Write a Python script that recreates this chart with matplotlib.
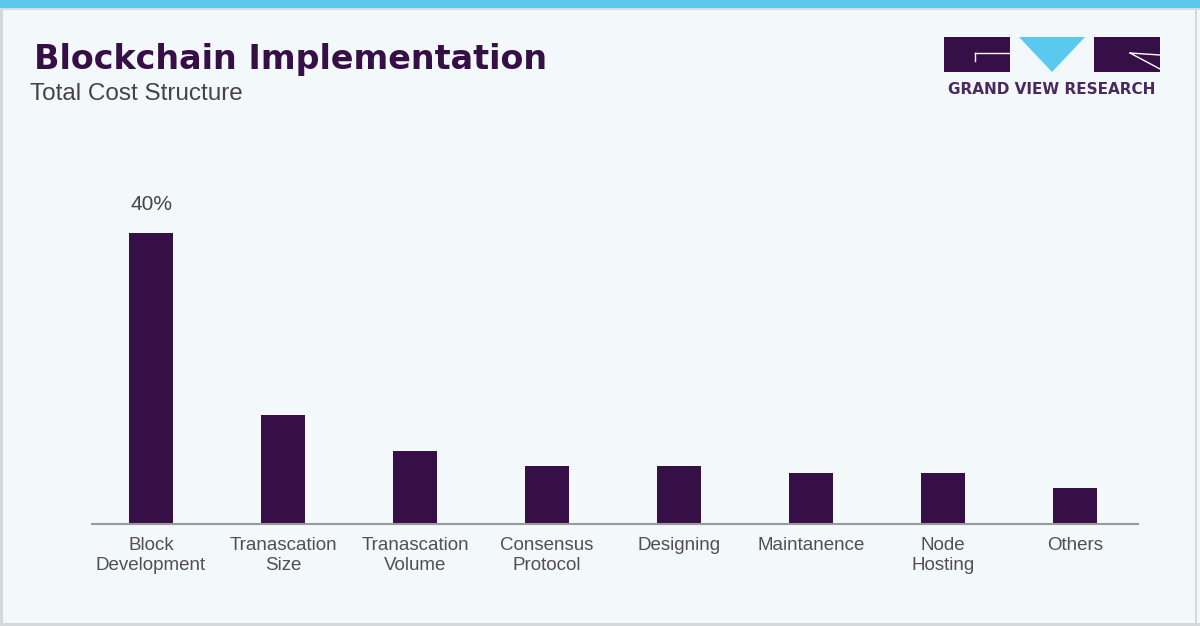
import matplotlib.pyplot as plt
from matplotlib.patches import Rectangle, Polygon

categories = ['Block\nDevelopment', 'Tranascation\nSize', 'Tranascation\nVolume',
              'Consensus\nProtocol', 'Designing', 'Maintanence', 'Node\nHosting', 'Others']
shares = [40, 15, 10, 8, 8, 7, 7, 5]
shown_label = '40%'

bg = '#f3f8fb'
purple = '#350f45'
cyan = '#5bc8f0'

plt.rcParams['font.family'] = ['Liberation Sans', 'DejaVu Sans']

fig = plt.figure(figsize=(12, 6.26), dpi=100, facecolor=bg)
W, H = 1200, 626

def box(x0, y0, x1, y1):
    # pixel box (top-left origin) -> figure fraction rect
    return [x0 / W, 1 - y1 / H, (x1 - x0) / W, (y1 - y0) / H]

# frame: top band and thin borders
fig.add_artist(Rectangle((0, 1 - 8 / H), 1, 8 / H, transform=fig.transFigure,
                         facecolor=cyan, edgecolor='none'))
fig.add_artist(Rectangle((0, 1 - 10 / H), 1, 2 / H, transform=fig.transFigure,
                         facecolor='#d5dde2', edgecolor='none'))
fig.add_artist(Rectangle((0, 0), 3 / W, 1 - 10 / H, transform=fig.transFigure,
                         facecolor='#d5d8da', edgecolor='none'))
fig.add_artist(Rectangle((1 - 5 / W, 0), 2 / W, 1 - 10 / H, transform=fig.transFigure,
                         facecolor='#d5d8da', edgecolor='none'))
fig.add_artist(Rectangle((0, 0), 1, 3 / H, transform=fig.transFigure,
                         facecolor='#d5d8da', edgecolor='none'))

ax = fig.add_axes(box(92, 160, 1138, 524))
ax.set_facecolor(bg)
x = range(len(categories))
ax.bar(x, shares, width=0.33, color=purple)
ax.set_xlim(-0.447, len(categories) - 1 + 0.477)
ax.set_ylim(0, 50)
ax.set_xticks(list(x))
ax.set_xticklabels(categories, fontsize=13.5, color='#505050', linespacing=1.3)
ax.tick_params(axis='x', length=0, pad=9)
ax.set_yticks([])
for s in ['top', 'right', 'left']:
    ax.spines[s].set_visible(False)
ax.spines['bottom'].set_color('#9a9a9a')
ax.spines['bottom'].set_linewidth(1.5)
ax.text(0, shares[0] + 2.6, shown_label, ha='center', va='bottom',
        fontsize=15, color='#444444')

fig.text(34 / W, 1 - 60 / H, 'Blockchain Implementation', fontsize=24,
         fontweight='bold', color=purple, va='center', ha='left',
         family=['DejaVu Sans'])
fig.text(30 / W, 1 - 94 / H, 'Total Cost Structure', fontsize=17.5,
         color='#444444', va='center', ha='left')

# logo
lg = fig.add_axes(box(940, 30, 1165, 105))
lg.set_xlim(940, 1165)
lg.set_ylim(105, 30)
lg.axis('off')
lg.add_patch(Rectangle((944, 37), 66, 35, facecolor=purple, edgecolor='none'))
lg.add_patch(Rectangle((1094, 37), 66, 35, facecolor=purple, edgecolor='none'))
lg.add_patch(Polygon([(1019, 37), (1085, 37), (1052, 72)], closed=True,
                     facecolor=cyan, edgecolor='none'))
lg.plot([975, 1010], [53, 53], color='white', lw=1)
lg.plot([975, 975], [53, 61], color='white', lw=1)
lg.plot([1130, 1160], [53, 69], color='white', lw=1)
lg.plot([1130, 1160], [53, 55], color='white', lw=1)
lg.text(1052, 90, 'GRAND VIEW RESEARCH', ha='center', va='center', fontsize=11,
        fontweight='bold', color='#4a2a5e', family=['DejaVu Sans'])

fig.savefig('out.png', dpi=100, facecolor=bg)
